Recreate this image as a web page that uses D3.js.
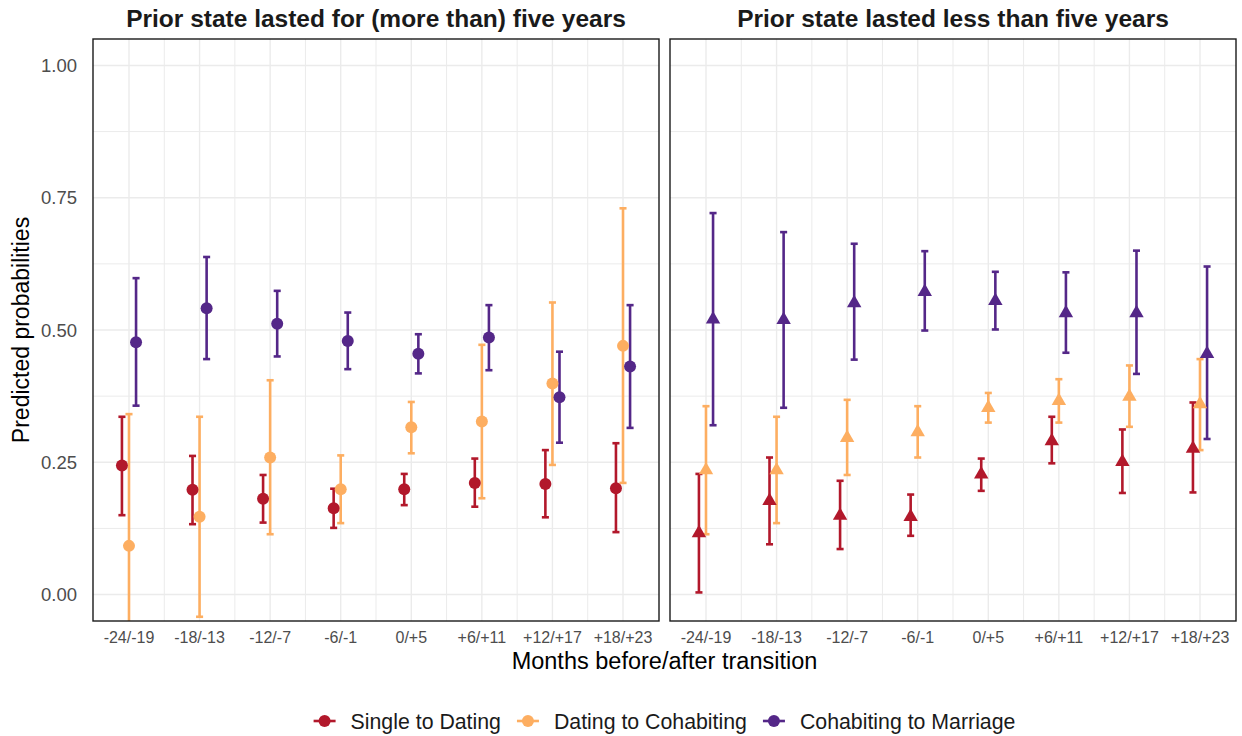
<!DOCTYPE html>
<meta charset="utf-8">
<style>
body { margin: 0; background: #fff; }
text { font-family: "Liberation Sans", Arial, sans-serif; }
.grid line { stroke: #EBEBEB; }
.tick-label { fill: #4D4D4D; }
</style>
<svg width="1242" height="736"></svg>
<script src="https://d3js.org/d3.v7.min.js"></script>
<script>

// categories
let periods = ["-24/-19", "-18/-13", "-12/-7", "-6/-1", "0/+5", "+6/+11", "+12/+17", "+18/+23"];
let transitions = ["Single to Dating", "Dating to Cohabiting", "Cohabiting to Marriage"];
let panelTitles = ["Prior state lasted for (more than) five years", "Prior state lasted less than five years"];
let yTicks = [0, 0.25, 0.5, 0.75, 1];

// prior state lasted five years or more
let longSingleEst = [0.244, 0.198, 0.181, 0.163, 0.199, 0.211, 0.209, 0.201];
let longSingleLo  = [0.150, 0.133, 0.136, 0.126, 0.169, 0.166, 0.146, 0.118];
let longSingleHi  = [0.336, 0.262, 0.226, 0.200, 0.228, 0.257, 0.273, 0.286];
let longDatingEst = [0.092, 0.147, 0.259, 0.199, 0.316, 0.327, 0.399, 0.470];
let longDatingLo  = [-0.157, -0.042, 0.114, 0.135, 0.267, 0.182, 0.245, 0.211];
let longDatingHi  = [0.341, 0.336, 0.405, 0.263, 0.364, 0.472, 0.552, 0.730];
let longCohabEst  = [0.477, 0.541, 0.512, 0.479, 0.455, 0.486, 0.373, 0.431];
let longCohabLo   = [0.357, 0.445, 0.450, 0.426, 0.418, 0.424, 0.287, 0.315];
let longCohabHi   = [0.598, 0.638, 0.574, 0.533, 0.492, 0.547, 0.459, 0.547];

// prior state lasted less than five years
let shortSingleEst = [0.116, 0.177, 0.149, 0.147, 0.227, 0.290, 0.251, 0.276];
let shortSingleLo  = [0.004, 0.095, 0.086, 0.111, 0.196, 0.248, 0.192, 0.193];
let shortSingleHi  = [0.228, 0.259, 0.215, 0.189, 0.257, 0.336, 0.312, 0.363];
let shortDatingEst = [0.235, 0.235, 0.296, 0.307, 0.353, 0.366, 0.374, 0.360];
let shortDatingLo  = [0.114, 0.135, 0.226, 0.259, 0.325, 0.325, 0.317, 0.273];
let shortDatingHi  = [0.356, 0.336, 0.368, 0.356, 0.381, 0.407, 0.433, 0.445];
let shortCohabEst  = [0.520, 0.519, 0.551, 0.572, 0.555, 0.532, 0.532, 0.455];
let shortCohabLo   = [0.320, 0.353, 0.444, 0.499, 0.501, 0.457, 0.417, 0.294];
let shortCohabHi   = [0.721, 0.685, 0.663, 0.649, 0.610, 0.609, 0.650, 0.620];

let panelSeries = [
    [[longSingleEst, longSingleLo, longSingleHi],
     [longDatingEst, longDatingLo, longDatingHi],
     [longCohabEst, longCohabLo, longCohabHi]],
    [[shortSingleEst, shortSingleLo, shortSingleHi],
     [shortDatingEst, shortDatingLo, shortDatingHi],
     [shortCohabEst, shortCohabLo, shortCohabHi]]
];

let color = d3.scaleOrdinal().domain(transitions).range(["#B2182B", "#FDAE61", "#542788"]);
let dodge = [-0.1, 0, 0.1];

let svg = d3.select("svg"),
    panelTop = 39,
    panelBottom = 621,
    panelWidth = 566,
    panelLefts = [93, 670];

let y = d3.scaleLinear().domain([-0.05, 1.05]).range([panelBottom, panelTop]);
let minorY = [0.125, 0.375, 0.625, 0.875];

panelTitles.forEach(function(title, p) {
    let x = d3.scaleLinear().domain([0.49, 8.51]).range([panelLefts[p], panelLefts[p] + panelWidth]);
    let g = svg.append("g");

    g.append("clipPath").attr("id", "clip" + p)
      .append("rect")
        .attr("x", panelLefts[p]).attr("y", panelTop)
        .attr("width", panelWidth).attr("height", panelBottom - panelTop);

    let grid = g.append("g").attr("class", "grid");
    grid.selectAll(".minor-y").data(minorY).enter().append("line")
        .attr("x1", x.range()[0]).attr("x2", x.range()[1])
        .attr("y1", d => y(d)).attr("y2", d => y(d))
        .attr("stroke-width", 1);
    grid.selectAll(".minor-x").data(d3.range(1.5, 8, 1)).enter().append("line")
        .attr("x1", d => x(d)).attr("x2", d => x(d))
        .attr("y1", panelTop).attr("y2", panelBottom)
        .attr("stroke-width", 1);
    grid.selectAll(".major-y").data(yTicks).enter().append("line")
        .attr("x1", x.range()[0]).attr("x2", x.range()[1])
        .attr("y1", d => y(d)).attr("y2", d => y(d))
        .attr("stroke-width", 1.4);
    grid.selectAll(".major-x").data(periods).enter().append("line")
        .attr("x1", (d, i) => x(i + 1)).attr("x2", (d, i) => x(i + 1))
        .attr("y1", panelTop).attr("y2", panelBottom)
        .attr("stroke-width", 1.4);

    let marks = g.append("g").attr("clip-path", "url(#clip" + p + ")");

    // error bars first, points on top
    panelSeries[p].forEach(function(s, k) {
        let rows = periods.map((d, i) => ({pos: i + 1 + dodge[k], est: s[0][i], lo: s[1][i], hi: s[2][i]}));
        let bars = marks.append("g")
            .attr("stroke", color(transitions[k]))
            .attr("stroke-width", 2.6)
            .attr("fill", "none");
        bars.selectAll(".bar").data(rows).enter().append("line")
            .attr("x1", d => x(d.pos)).attr("x2", d => x(d.pos))
            .attr("y1", d => y(d.lo)).attr("y2", d => y(d.hi));
        bars.selectAll(".cap-hi").data(rows).enter().append("line")
            .attr("x1", d => x(d.pos - 0.05)).attr("x2", d => x(d.pos + 0.05))
            .attr("y1", d => y(d.hi)).attr("y2", d => y(d.hi));
        bars.selectAll(".cap-lo").data(rows).enter().append("line")
            .attr("x1", d => x(d.pos - 0.05)).attr("x2", d => x(d.pos + 0.05))
            .attr("y1", d => y(d.lo)).attr("y2", d => y(d.lo));
    });

    panelSeries[p].forEach(function(s, k) {
        let rows = periods.map((d, i) => ({pos: i + 1 + dodge[k], est: s[0][i]}));
        let pts = marks.append("g").attr("fill", color(transitions[k]));
        if (p === 0) {
            pts.selectAll("circle").data(rows).enter().append("circle")
                .attr("cx", d => x(d.pos)).attr("cy", d => y(d.est))
                .attr("r", 6);
        } else {
            pts.selectAll("path").data(rows).enter().append("path")
                .attr("d", d3.symbol(d3.symbolTriangle, 90))
                .attr("transform", d => "translate(" + x(d.pos) + "," + y(d.est) + ")");
        }
    });

    // panel border
    g.append("rect")
        .attr("x", panelLefts[p]).attr("y", panelTop)
        .attr("width", panelWidth).attr("height", panelBottom - panelTop)
        .attr("fill", "none").attr("stroke", "#1A1A1A").attr("stroke-width", 1.4);

    // x tick labels
    g.selectAll(".xlab").data(periods).enter().append("text")
        .attr("class", "tick-label")
        .attr("x", (d, i) => x(i + 1)).attr("y", 643)
        .attr("text-anchor", "middle")
        .style("font-size", "16px")
        .text(d => d);

    // strip title
    g.append("text")
        .attr("x", panelLefts[p] + panelWidth / 2).attr("y", 27)
        .attr("text-anchor", "middle")
        .style("font-size", "24.5px").style("font-weight", "bold")
        .attr("fill", "#1A1A1A")
        .text(title);
});

// y tick labels (left panel only)
svg.selectAll(".ylab").data(yTicks).enter().append("text")
    .attr("class", "tick-label")
    .attr("x", 77).attr("y", d => y(d)).attr("dy", "0.36em")
    .attr("text-anchor", "end")
    .style("font-size", "18.5px")
    .text(d => d3.format(".2f")(d));

// axis titles
svg.append("text")
    .attr("x", (panelLefts[0] + panelLefts[1] + panelWidth) / 2).attr("y", 669)
    .attr("text-anchor", "middle")
    .style("font-size", "23.5px")
    .text("Months before/after transition");

svg.append("text")
    .attr("transform", "translate(29," + (panelTop + panelBottom) / 2 + ") rotate(-90)")
    .attr("text-anchor", "middle")
    .style("font-size", "23px")
    .text("Predicted probabilities");

// legend
let legend = svg.append("g");
let cursor = 0;
transitions.forEach(function(t, k) {
    let item = legend.append("g").attr("transform", "translate(" + cursor + ",0)");
    item.append("line")
        .attr("x1", 0).attr("x2", 22).attr("y1", 0).attr("y2", 0)
        .attr("stroke", color(t)).attr("stroke-width", 2.6);
    item.append("circle").attr("cx", 11).attr("cy", 0).attr("r", 6).attr("fill", color(t));
    let label = item.append("text")
        .attr("x", 37).attr("y", 0).attr("dy", "0.36em")
        .style("font-size", "21.3px")
        .attr("fill", "#1A1A1A")
        .text(t);
    cursor += 37 + label.node().getComputedTextLength() + 16;
});
let legendWidth = cursor - 16;
legend.attr("transform", "translate(" + ((panelLefts[0] + panelLefts[1] + panelWidth) / 2 - legendWidth / 2) + ",721)");

</script>
